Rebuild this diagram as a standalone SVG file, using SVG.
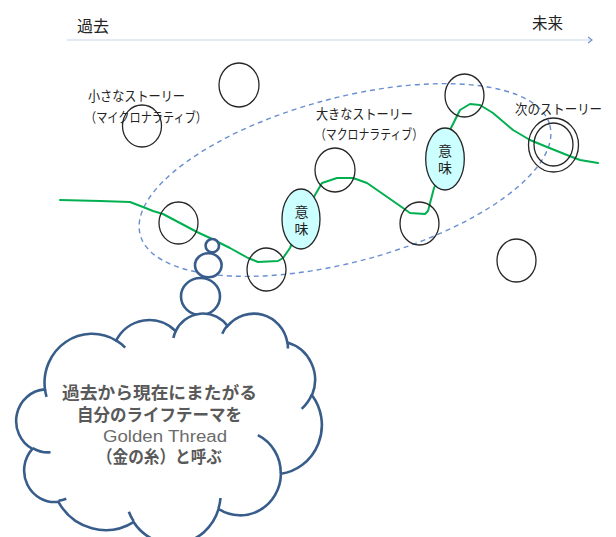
<svg xmlns="http://www.w3.org/2000/svg" width="616" height="537" viewBox="0 0 616 537">
<defs>
<style>
.c{fill:none;stroke:#262626;stroke-width:1.3}
.m{fill:#ccffff;stroke:#262626;stroke-width:1.3}
.bb{fill:#fff;stroke:#385d8a;stroke-width:2.6}
.lbl{font-family:"Noto Sans CJK JP","Noto Sans",sans-serif;font-size:13.5px;fill:#222}
.hd{font-family:"Noto Sans CJK JP","Noto Sans",sans-serif;font-size:15.5px;fill:#222}
.mi{font-family:"Noto Sans CJK JP","Noto Sans",sans-serif;font-size:14px;fill:#222;text-anchor:middle;writing-mode:vertical-rl;letter-spacing:3px}
.ct{font-family:"Noto Sans CJK JP",sans-serif;font-size:17.5px;font-weight:bold;fill:#595959;text-anchor:middle}
.en{font-family:"Liberation Sans",Arial,sans-serif;font-size:16px;font-weight:normal;fill:#6b6b6b}
</style>
<marker id="ah" markerWidth="8" markerHeight="8" refX="5" refY="4" orient="auto" markerUnits="userSpaceOnUse">
<polyline points="1,1 5,4 1,7" fill="none" stroke="#6f93cf" stroke-width="1.2"/>
</marker>
</defs>
<rect width="616" height="537" fill="#fff"/>

<g id="connectors">
<line id="time-axis" x1="67" y1="40" x2="592" y2="40" stroke="#c9d6ec" stroke-width="1.2" marker-end="url(#ah)"/>
<ellipse id="macro-range" cx="345" cy="180" rx="212" ry="82" transform="rotate(-15 345 180)" fill="none" stroke="#6a8fd0" stroke-width="1.4" stroke-dasharray="5 4"/>
<polyline id="golden-thread" fill="none" stroke="#00b050" stroke-width="2" stroke-linejoin="round" stroke-linecap="round"
 points="60,200 100,201 130,202 143,207 153,211 163,214 180,223 197,232 210,238 230,248 248,258 258,262 278,261 283,258 290,248 301,222 315,195 322,183 337,178 353,178 367,183 380,192 393,201 403,208 410,213 425,214 428,211 434,188 445,160 450,130 460,110 470,104 480,105 493,113 513,130 530,140 547,147 567,155 580,160 598,163"/>
</g>

<g id="axis-labels">
<text class="hd" x="77" y="32" textLength="32" lengthAdjust="spacingAndGlyphs">過去</text>
<text class="hd" x="532" y="28.5" textLength="31" lengthAdjust="spacingAndGlyphs">未来</text>
</g>

<g id="story-c1"><ellipse class="c" cx="239" cy="85" rx="20" ry="22"/></g>
<g id="story-c2"><ellipse class="c" cx="142" cy="126" rx="19.5" ry="21"/></g>
<g id="story-c3"><ellipse class="c" cx="464.5" cy="95.5" rx="19.5" ry="21.5"/></g>
<g id="story-c4"><ellipse class="c" cx="335" cy="170" rx="20" ry="22"/></g>
<g id="story-c5"><ellipse class="c" cx="178.5" cy="223" rx="19.5" ry="21"/></g>
<g id="story-c6"><ellipse class="c" cx="266.5" cy="269.5" rx="19.5" ry="21.5"/></g>
<g id="story-c7"><ellipse class="c" cx="419.5" cy="223.5" rx="19.5" ry="21.5"/></g>
<g id="story-c8"><ellipse class="c" cx="516.5" cy="260.5" rx="19.5" ry="21.5"/></g>
<g id="next-story">
<ellipse class="c" cx="553.5" cy="145" rx="25" ry="27"/>
<ellipse class="c" cx="553.5" cy="144.5" rx="19.5" ry="21.5"/>
</g>

<g id="meaning-1">
<ellipse class="m" cx="301" cy="219" rx="19" ry="30"/>
<text class="mi" x="301.5" y="221.5">意味</text>
</g>
<g id="meaning-2">
<ellipse class="m" cx="445" cy="159" rx="19.3" ry="31"/>
<text class="mi" x="445" y="160.5">意味</text>
</g>

<g id="label-small">
<text class="lbl" x="88" y="100.5" textLength="97" lengthAdjust="spacingAndGlyphs">小さなストーリー</text>
<text class="lbl" x="85" y="121.5" textLength="122" lengthAdjust="spacingAndGlyphs">（マイクロナラティブ）</text>
</g>
<g id="label-big">
<text class="lbl" x="316" y="118.5" textLength="97" lengthAdjust="spacingAndGlyphs">大きなストーリー</text>
<text class="lbl" x="315" y="139" textLength="108" lengthAdjust="spacingAndGlyphs">（マクロナラティブ）</text>
</g>
<g id="label-next">
<text class="lbl" x="515" y="113.5" textLength="87" lengthAdjust="spacingAndGlyphs">次のストーリー</text>
</g>

<g id="thought-bubbles">
<ellipse class="bb" cx="212.3" cy="245.7" rx="6.7" ry="6.7"/>
<ellipse class="bb" cx="208.3" cy="265.3" rx="13.3" ry="12"/>
<ellipse class="bb" cx="200.5" cy="296.5" rx="19.5" ry="18.5"/>
</g>

<g id="cloud">
<g transform="translate(17.5 312.8) scale(0.007042 0.005329)">
<path d="M3900,14370 A6753,9190 0 0 1 14006,5203 A5333,7267 0 0 1 22457,3434 A4365,5945 0 0 1 29835,2483 A4857,6595 0 0 1 38320,5578 A5333,7273 0 0 1 41821,15461 A6775,9220 0 0 1 37405,30202 A5785,7867 0 0 1 28556,36812 A6752,9215 0 0 1 16481,39264 A7720,10543 0 0 1 5807,35475 A4360,5918 0 0 1 2115,25555 A4345,5945 0 0 1 3900,14370 Z" fill="#fff" stroke="#385d8a" stroke-width="2.6" vector-effect="non-scaling-stroke"/>
<path d="M4693,26177 A4345,5945 0 0 1 2160,25380 M6928,34899 A4360,5918 0 0 1 5819,35281 M16478,39090 A6752,9215 0 0 1 15810,37349 M28827,34751 A6752,9215 0 0 1 28560,36660 M34129,22954 A5785,7867 0 0 1 37381,30090 M41798,15354 A5333,7273 0 0 1 40350,18030 M38324,5426 A4857,6595 0 0 1 38400,6690 M29078,3952 A4857,6595 0 0 1 29820,2339 M22141,4720 A4365,5945 0 0 1 22500,3331 M14000,5192 A6753,9190 0 0 1 15299,6539 M4127,15789 A6753,9190 0 0 1 3900,14370" fill="none" stroke="#385d8a" stroke-width="2.6" vector-effect="non-scaling-stroke"/>
</g>
<text class="ct"><tspan x="159.5" y="399" textLength="195" lengthAdjust="spacingAndGlyphs">過去から現在にまたがる</tspan><tspan x="159.5" y="420.5" textLength="165" lengthAdjust="spacingAndGlyphs">自分のライフテーマを</tspan><tspan class="en" x="165" y="441.5" textLength="124" lengthAdjust="spacingAndGlyphs">Golden Thread</tspan><tspan x="159.5" y="462.5" textLength="125" lengthAdjust="spacingAndGlyphs">（金の糸）と呼ぶ</tspan></text>
</g>
</svg>
